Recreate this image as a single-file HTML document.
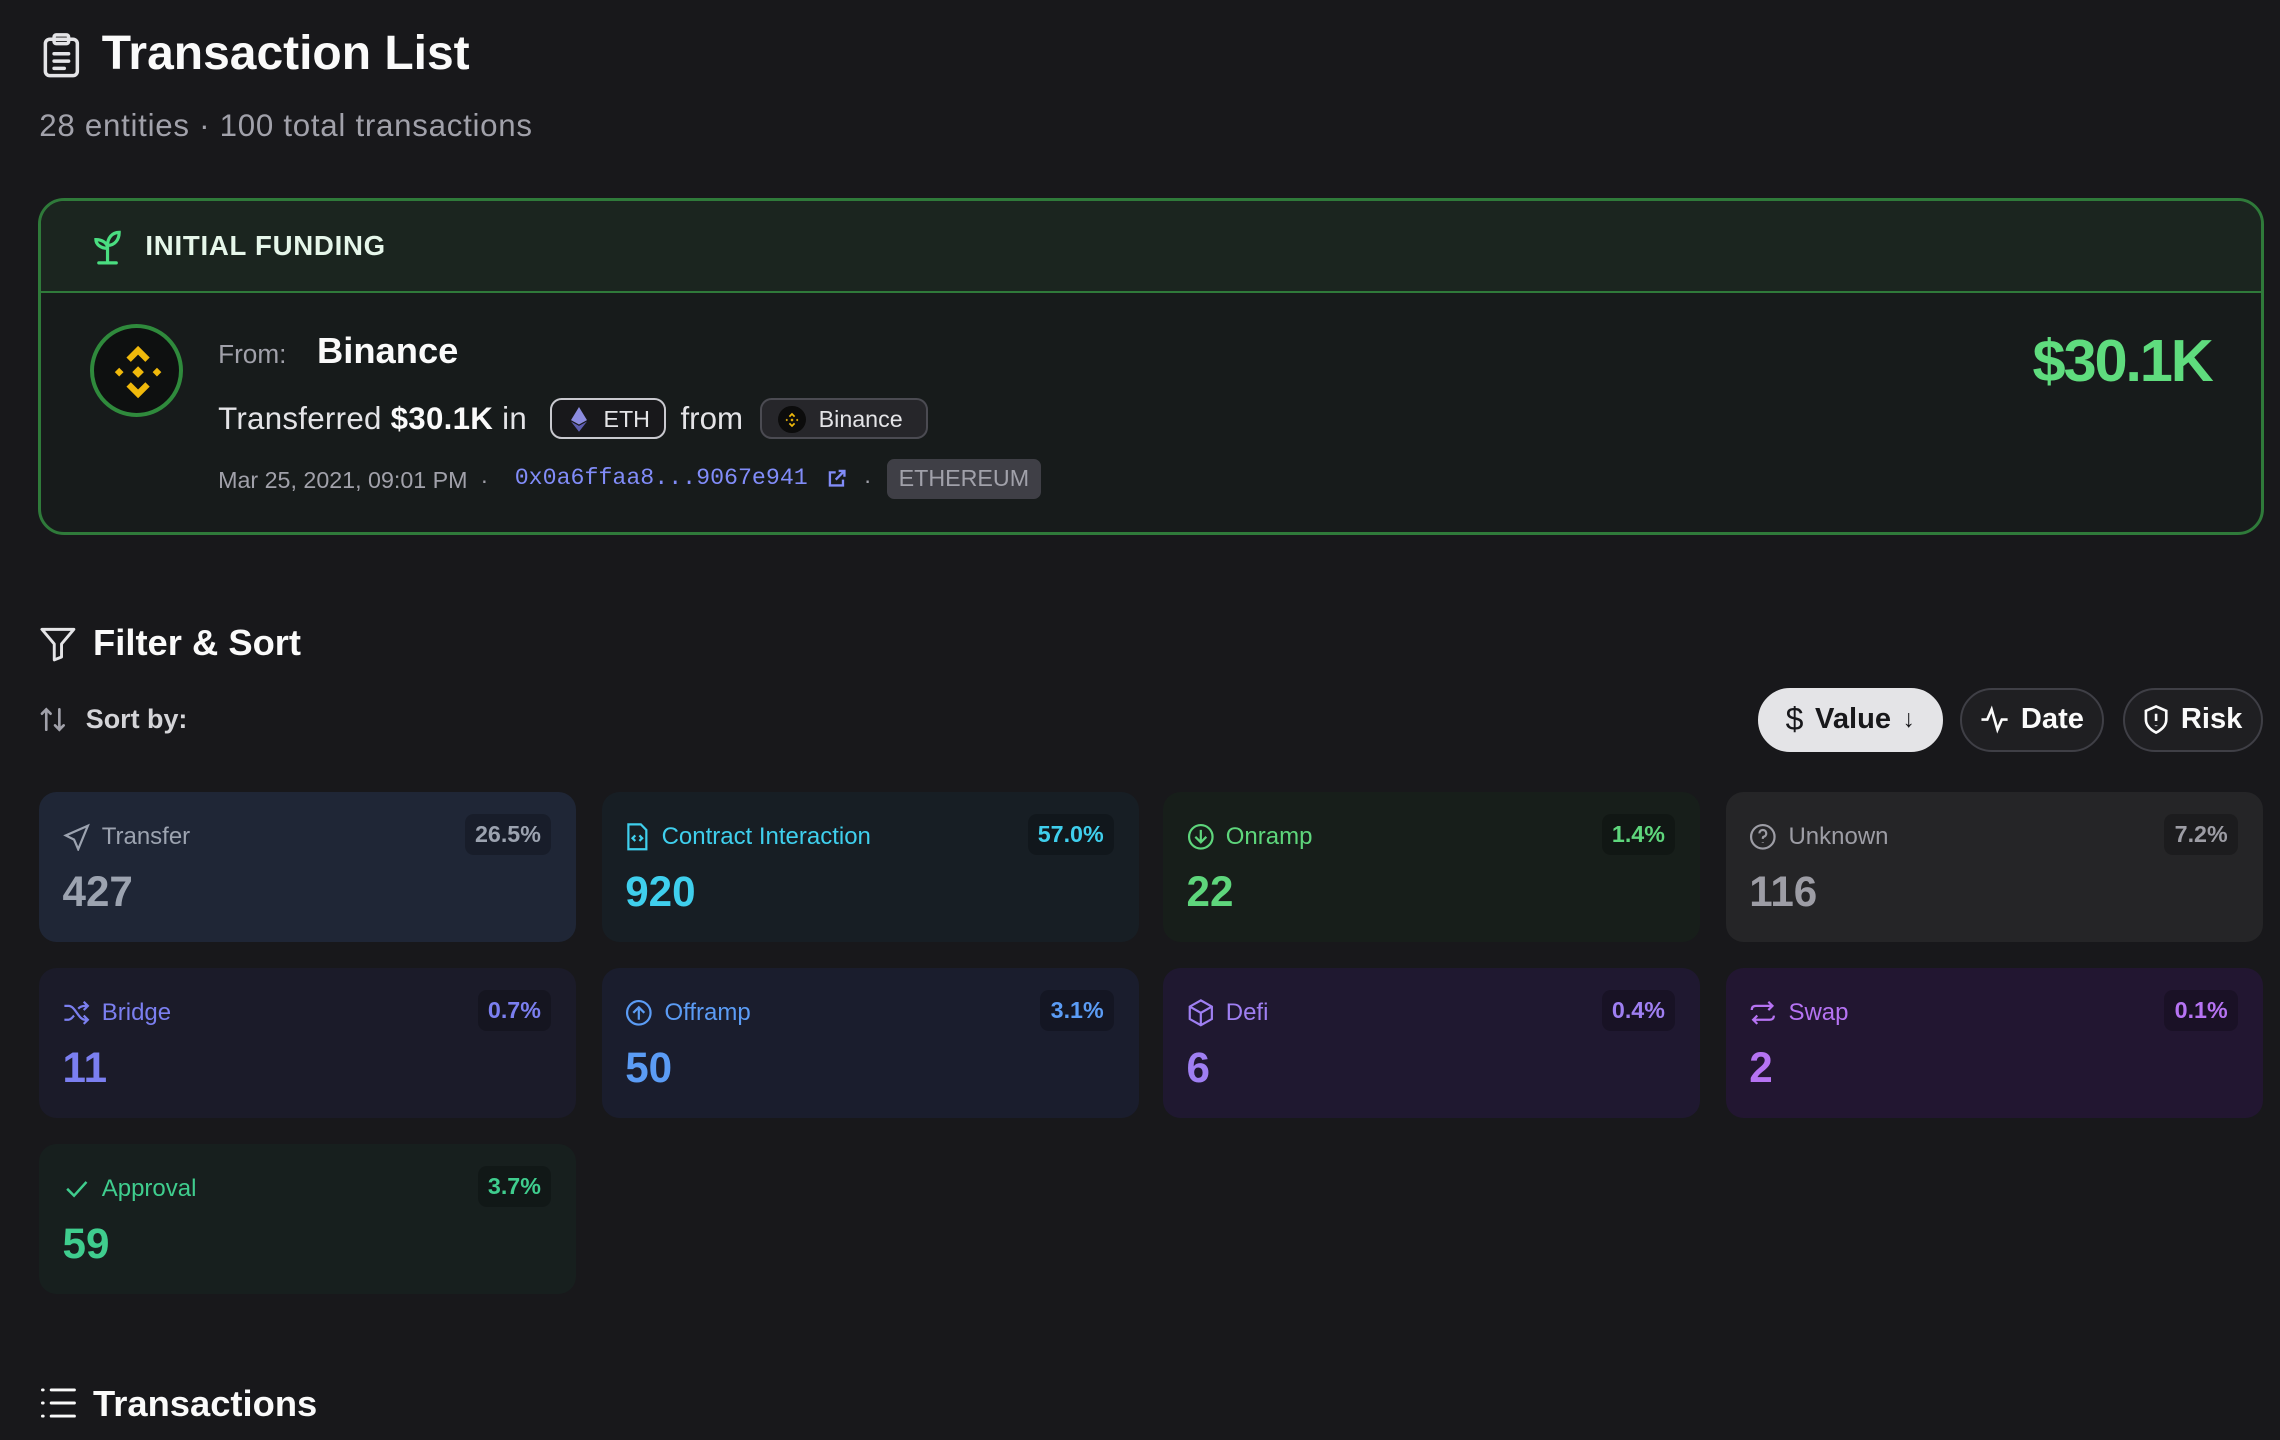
<!DOCTYPE html>
<html><head><meta charset="utf-8"><style>
html,body{margin:0;padding:0;background:#18181b;width:2280px;height:1440px;overflow:hidden}
#w{zoom:1.454082;position:relative;width:1568px;height:991px;font-family:"Liberation Sans",sans-serif;color:#f4f4f5}
.a{position:absolute;white-space:nowrap}
.card{position:absolute;width:369px;height:103px;border-radius:12px}
.card .l{position:absolute;left:16px;top:21px;font-size:16.5px;display:flex;align-items:center;gap:8px}
.card .n{position:absolute;left:16px;top:52px;font-size:29px;font-weight:bold}
.card .p{position:absolute;right:17px;top:15px;height:28px;line-height:28px;padding:0 7px;border-radius:6px;background:rgba(0,0,0,.22);font-size:16px;font-weight:bold}
.btn{position:absolute;top:473px;height:44px;border-radius:22px;border:1.5px solid #3f3f46;display:flex;align-items:center;justify-content:center;gap:8px;font-size:20px;font-weight:bold;box-sizing:border-box}
svg{display:block}
</style></head><body><div id="w">
<svg class="a" style="left:28px;top:22px" width="28" height="32" viewBox="0 0 28 32" fill="none" stroke="#e4e4e7" stroke-width="2.4" stroke-linecap="round"><rect x="3" y="5" width="22" height="25" rx="3"/><rect x="9" y="2" width="10" height="6" rx="1.5"/><path d="M9 15h10M9 20h10M9 25h7"/></svg>
<div class="a" style="left:70px;top:18px;font-size:33px;font-weight:bold;color:#fafafa">Transaction List</div>
<div class="a" style="left:27px;top:74px;font-size:21.5px;color:#a1a1aa;letter-spacing:.5px">28 entities · 100 total transactions</div>

<div class="a" style="left:26px;top:136px;width:1531px;height:232px;box-sizing:border-box;border:2.5px solid #2f7a3a;border-radius:18px;background:#171b1b;overflow:hidden">
 <div style="height:62px;background:#1b251f;border-bottom:2px solid #2f7a3a"></div>
</div>
<svg class="a" style="left:64px;top:157px" width="22" height="26" viewBox="0 0 22 26" fill="none" stroke="#4ade80" stroke-width="2.2" stroke-linecap="round"><path d="M10 24V12M4 24h12M10 14c-5 0-8-3-8-6 4 0 8 2 8 6zM10 12c0-5 3-9 8-9 0 5-3 9-8 9z"/></svg>
<div class="a" style="left:100px;top:158px;font-size:19px;font-weight:bold;color:#e6f7ea;letter-spacing:.5px">INITIAL FUNDING</div>
<div class="a" style="left:62px;top:223px;width:64px;height:64px;border-radius:50%;border:3px solid #2f8a3c;background:#0e1010;box-sizing:border-box"></div>
<svg class="a" style="left:75px;top:236px" width="40" height="40" viewBox="0 0 40 40" fill="#f0b90b"><path d="M20 2l8 8-3 3-5-5-5 5-3-3z"/><path d="M20 38l8-8-3-3-5 5-5-5-3 3z"/><path d="M4 20l3-3 3 3-3 3z"/><path d="M30 20l3-3 3 3-3 3z"/><path d="M20 16l4 4-4 4-4-4z"/></svg>
<div class="a" style="left:150px;top:233px;font-size:18px;color:#a1a1aa">From:</div>
<div class="a" style="left:218px;top:227px;font-size:25px;font-weight:bold;color:#fafafa">Binance</div>
<div class="a" style="left:150px;top:276px;font-size:21.5px;color:#e4e4e7;letter-spacing:.2px">Transferred <b style="color:#fafafa">$30.1K</b> in</div>
<div class="a" style="left:378px;top:274px;width:80px;height:28px;border:1.5px solid #c9c9cf;border-radius:8px;box-sizing:border-box;background:#18181b"></div>
<svg class="a" style="left:393px;top:280px" width="11" height="17" viewBox="0 0 11 17"><path d="M5.5 0L0 9l5.5 3 5.5-3z" fill="#8c8ce0"/><path d="M0 10l5.5 7 5.5-7-5.5 3z" fill="#5d5db0"/></svg>
<div class="a" style="left:415px;top:279px;font-size:16px;color:#e4e4e7">ETH</div>
<div class="a" style="left:468px;top:276px;font-size:21.5px;color:#e4e4e7">from</div>
<div class="a" style="left:523px;top:274px;width:115px;height:28px;border:1.5px solid #4b4b52;border-radius:8px;box-sizing:border-box;background:#26262a"></div>
<div class="a" style="left:535px;top:279px;width:19px;height:19px;border-radius:50%;background:#0c0c0c"></div>
<svg class="a" style="left:539px;top:283px" width="11" height="11" viewBox="0 0 40 40" fill="#f0b90b"><path d="M20 2l8 8-3 3-5-5-5 5-3-3z"/><path d="M20 38l8-8-3-3-5 5-5-5-3 3z"/><path d="M4 20l3-3 3 3-3 3z"/><path d="M30 20l3-3 3 3-3 3z"/><path d="M20 16l4 4-4 4-4-4z"/></svg>
<div class="a" style="left:563px;top:279px;font-size:16px;color:#e4e4e7">Binance</div>
<div class="a" style="left:150px;top:321px;font-size:16px;color:#a1a1aa">Mar 25, 2021, 09:01 PM &nbsp;·</div>
<div class="a" style="left:354px;top:320px;font-size:16px;font-family:'Liberation Mono',monospace;color:#818cf8">0x0a6ffaa8...9067e941</div>
<svg class="a" style="left:569px;top:322px" width="14" height="14" viewBox="0 0 14 14" fill="none" stroke="#818cf8" stroke-width="1.6"><path d="M11 8v4H2V3h4M8 2h4v4M12 2L6 8"/></svg>
<div class="a" style="left:594px;top:321px;font-size:16px;color:#a1a1aa">·</div>
<div class="a" style="left:610px;top:316px;height:27px;line-height:27px;padding:0 8px;border-radius:5px;background:#3f3f46;font-size:16px;color:#a1a1aa">ETHEREUM</div>
<div class="a" style="left:1385px;top:224px;width:136px;text-align:right;font-size:41px;font-weight:bold;color:#5fdc7e;letter-spacing:-1.5px">$30.1K</div>

<svg class="a" style="left:27px;top:430px" width="26" height="26" viewBox="0 0 26 26" fill="none" stroke="#e4e4e7" stroke-width="2" stroke-linejoin="round"><path d="M2 3h22l-8.5 10v9l-5 2V13z"/></svg>
<div class="a" style="left:64px;top:428px;font-size:25px;font-weight:bold;color:#fafafa">Filter &amp; Sort</div>
<svg class="a" style="left:27px;top:485px" width="20" height="20" viewBox="0 0 20 20" fill="none" stroke="#a1a1aa" stroke-width="1.8" stroke-linecap="round"><path d="M5 17V3M2 6l3-3 3 3M14 3v14M11 14l3 3 3-3"/></svg>
<div class="a" style="left:59px;top:484px;font-size:18.5px;font-weight:bold;color:#d4d4d8">Sort by:</div>
<div class="btn" style="left:1209px;width:127px;background:#e4e4e7;border-color:#e4e4e7;color:#18181b"><span style="font-size:22px;font-weight:normal">$</span>Value<span style="font-size:17px">↓</span></div>
<div class="btn" style="left:1348px;width:99px;background:#1f1f22;color:#fafafa"><svg width="20" height="20" viewBox="0 0 20 20" fill="none" stroke="#fafafa" stroke-width="1.8"><path d="M1 10h4l3-7 4 14 3-7h4"/></svg>Date</div>
<div class="btn" style="left:1460px;width:96px;background:#1f1f22;color:#fafafa"><svg width="18" height="20" viewBox="0 0 18 20" fill="none" stroke="#fafafa" stroke-width="1.8"><path d="M9 1l7 3v6c0 4-3 7-7 9-4-2-7-5-7-9V4z"/><path d="M9 6v5M9 14v.5"/></svg>Risk</div>

<div class="card" style="left:27px;top:545px;background:#1f2636;color:#9ca3b0"><div class="l"><svg width="19" height="19" viewBox="0 0 20 20" fill="none" stroke="currentColor" stroke-width="1.6"><path d="M18 2L2 9l6 3 3 7z"/></svg>Transfer</div><div class="p">26.5%</div><div class="n">427</div></div>
<div class="card" style="left:414px;top:545px;background:#171e24;color:#3fcfed"><div class="l"><svg width="17" height="19" viewBox="0 0 17 20" fill="none" stroke="currentColor" stroke-width="1.6"><path d="M2 1h9l4 4v14H2z"/><path d="M7 9l-2 2 2 2M10 9l2 2-2 2"/></svg>Contract Interaction</div><div class="p">57.0%</div><div class="n">920</div></div>
<div class="card" style="left:800px;top:545px;background:#171e1a;color:#5ed67c"><div class="l"><svg width="19" height="19" viewBox="0 0 20 20" fill="none" stroke="currentColor" stroke-width="1.6"><circle cx="10" cy="10" r="8.5"/><path d="M10 5v9M6 10l4 4 4-4"/></svg>Onramp</div><div class="p">1.4%</div><div class="n">22</div></div>
<div class="card" style="left:1187px;top:545px;background:#252527;color:#9d9da5"><div class="l"><svg width="19" height="19" viewBox="0 0 20 20" fill="none" stroke="currentColor" stroke-width="1.6"><circle cx="10" cy="10" r="8.5"/><path d="M7.5 7.5a2.5 2.5 0 1 1 3 2.5c-.5.2-.5.8-.5 1.5M10 14v.5"/></svg>Unknown</div><div class="p">7.2%</div><div class="n">116</div></div>
<div class="card" style="left:27px;top:666px;background:#1b1b29;color:#7b7ff0"><div class="l"><svg width="19" height="19" viewBox="0 0 20 20" fill="none" stroke="currentColor" stroke-width="1.6"><path d="M1 5h3c5 0 7 10 12 10h2M1 15h3c2 0 3-2 4-3M11 7c1-1 3-2 5-2h2M15 2l3 3-3 3M15 12l3 3-3 3"/></svg>Bridge</div><div class="p">0.7%</div><div class="n">11</div></div>
<div class="card" style="left:414px;top:666px;background:#1a1d2d;color:#5b9cf5"><div class="l"><svg width="19" height="19" viewBox="0 0 20 20" fill="none" stroke="currentColor" stroke-width="1.6"><circle cx="10" cy="10" r="8.5"/><path d="M10 15V6M6 10l4-4 4 4"/></svg>Offramp</div><div class="p">3.1%</div><div class="n">50</div></div>
<div class="card" style="left:800px;top:666px;background:#1f1830;color:#9f7ff2"><div class="l"><svg width="19" height="19" viewBox="0 0 20 20" fill="none" stroke="currentColor" stroke-width="1.6"><path d="M10 1l8 4.5v9L10 19l-8-4.5v-9zM2 5.5l8 4.5 8-4.5M10 10v9"/></svg>Defi</div><div class="p">0.4%</div><div class="n">6</div></div>
<div class="card" style="left:1187px;top:666px;background:#221631;color:#b673f3"><div class="l"><svg width="19" height="19" viewBox="0 0 20 20" fill="none" stroke="currentColor" stroke-width="1.6"><path d="M2 8c0-2 1-3 3-3h12M14 2l3 3-3 3M18 12c0 2-1 3-3 3H3M6 18l-3-3 3-3"/></svg>Swap</div><div class="p">0.1%</div><div class="n">2</div></div>
<div class="card" style="left:27px;top:787px;background:#171f1e;color:#3fcd8e"><div class="l"><svg width="19" height="19" viewBox="0 0 20 20" fill="none" stroke="currentColor" stroke-width="1.8"><path d="M3 10l5 5 9-10"/></svg>Approval</div><div class="p">3.7%</div><div class="n">59</div></div>

<svg class="a" style="left:28px;top:954px" width="24" height="22" viewBox="0 0 24 22" fill="none" stroke="#fafafa" stroke-width="2" stroke-linecap="round"><path d="M1 2h.5M1 11h.5M1 20h.5M7 2h16M7 11h16M7 20h16"/></svg>
<div class="a" style="left:64px;top:951px;font-size:25px;font-weight:bold;color:#fafafa">Transactions</div>
</div></body></html>
